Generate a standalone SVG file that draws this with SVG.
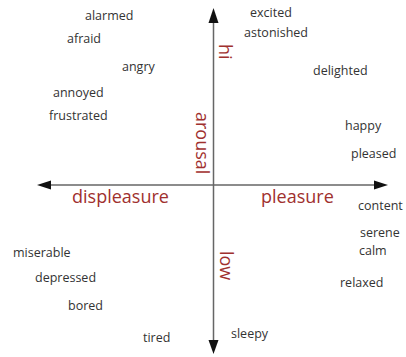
<svg xmlns="http://www.w3.org/2000/svg" width="406" height="357" viewBox="0 0 406 357">
<style>
.w{font-family:"Open Sans","Liberation Sans",sans-serif;font-size:12.5px;fill:#333}
.r{font-family:"Open Sans","Liberation Sans",sans-serif;font-size:18px;fill:#a0302e}
.ax{stroke:#666;stroke-width:1.5;fill:none}
.hd{fill:#111}
</style>
<rect width="406" height="357" fill="#fff"/>
<g id="connectors">
<line class="ax" x1="213.5" y1="20" x2="213.5" y2="343"/>
<line class="ax" x1="48" y1="185" x2="377" y2="185"/>
<polygon class="hd" points="213.5,8 208.5,23 218.5,23"/>
<polygon class="hd" points="213.5,354 208.5,340 218.5,340"/>
<polygon class="hd" points="37,185 51,180.5 51,189.5"/>
<polygon class="hd" points="388,185 374,180.5 374,189.5"/>
</g>
<g id="axis-labels">
<g id="displeasure"><text class="r" x="72" y="203">displeasure</text></g>
<g id="pleasure"><text class="r" x="261" y="203">pleasure</text></g>
<g id="arousal"><text class="r" transform="translate(195.5,112) rotate(90)">arousal</text></g>
<g id="hi"><text class="r" transform="translate(219,44) rotate(90)">hi</text></g>
<g id="low"><text class="r" transform="translate(220,251) rotate(90)">low</text></g>
</g>
<g id="alarmed"><text class="w" x="85" y="20">alarmed</text></g>
<g id="afraid"><text class="w" x="67" y="43">afraid</text></g>
<g id="angry"><text class="w" x="122" y="71">angry</text></g>
<g id="annoyed"><text class="w" x="53" y="97">annoyed</text></g>
<g id="frustrated"><text class="w" x="49" y="120">frustrated</text></g>
<g id="excited"><text class="w" x="250" y="17">excited</text></g>
<g id="astonished"><text class="w" x="244" y="37">astonished</text></g>
<g id="delighted"><text class="w" x="313" y="75">delighted</text></g>
<g id="happy"><text class="w" x="345" y="130">happy</text></g>
<g id="pleased"><text class="w" x="351" y="158">pleased</text></g>
<g id="content"><text class="w" x="358" y="210">content</text></g>
<g id="serene"><text class="w" x="360" y="237">serene</text></g>
<g id="calm"><text class="w" x="359" y="255">calm</text></g>
<g id="relaxed"><text class="w" x="340" y="287">relaxed</text></g>
<g id="sleepy"><text class="w" x="231" y="338">sleepy</text></g>
<g id="miserable"><text class="w" x="13" y="257">miserable</text></g>
<g id="depressed"><text class="w" x="35" y="282">depressed</text></g>
<g id="bored"><text class="w" x="68" y="310">bored</text></g>
<g id="tired"><text class="w" x="143" y="342">tired</text></g>
</svg>
